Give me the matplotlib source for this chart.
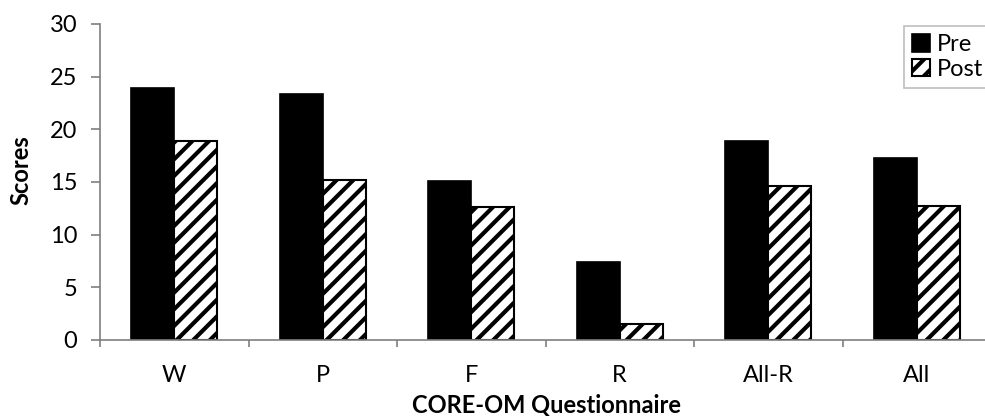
import matplotlib
matplotlib.use('Agg')
import matplotlib.pyplot as plt
import numpy as np

plt.rcParams['font.family'] = ['Lato', 'DejaVu Sans']
plt.rcParams['hatch.linewidth'] = 3.0
plt.rcParams['hatch.color'] = 'black'

# CORE-OM subscales, pre and post scores
categories = ['W', 'P', 'F', 'R', 'All-R', 'All']
pre_scores = [23.9, 23.35, 15.1, 7.4, 18.9, 17.25]
post_scores = [18.85, 15.2, 12.65, 1.55, 14.6, 12.75]

W, H = 985, 416
fig = plt.figure(figsize=(W / 100, H / 100), dpi=100)
ax = fig.add_axes([100 / W, (H - 340) / H, 891 / W, 316 / H])

x = np.arange(len(categories))
width = 0.29
ax.bar(x - width / 2, pre_scores, width, color='black', edgecolor='black',
       linewidth=1.2, label='Pre')
ax.bar(x + width / 2, post_scores, width, color='white', edgecolor='black',
       linewidth=1.5, hatch='//', label='Post')

ax.set_xlim(-0.5, len(categories) - 0.5)
ax.set_ylim(0, 30)
ax.set_yticks(np.arange(0, 31, 5))

# ticks at category boundaries, labels at centres
ax.set_xticks(np.arange(-0.5, len(categories), 1.0))
ax.set_xticklabels([])
ax.set_xticks(x, minor=True)
ax.set_xticklabels(categories, minor=True, fontsize=17)
ax.tick_params(axis='x', which='minor', length=0, pad=18)
ax.tick_params(axis='x', which='major', length=5, width=1.2, color='#7f7f7f')
ax.tick_params(axis='y', length=6.5, width=1.2, color='#7f7f7f', pad=10, labelsize=17)

for side in ['top', 'right']:
    ax.spines[side].set_visible(False)
for side in ['left', 'bottom']:
    ax.spines[side].set_color('#7f7f7f')
    ax.spines[side].set_linewidth(1.2)

fig.text(21 / W, 1 - 170 / H, 'Scores', rotation=90, ha='center', va='center',
         fontsize=17, fontweight='bold')
fig.text(546 / W, 1 - 405 / H, 'CORE-OM Questionnaire', ha='center', va='center',
         fontsize=17, fontweight='bold')

leg = fig.legend(loc='upper left', bbox_to_anchor=(904 / W, 1 - 26 / H),
                 fontsize=17, handlelength=0.75, handleheight=0.75,
                 handletextpad=0.3, labelspacing=0.15, borderpad=0.35,
                 borderaxespad=0, fancybox=False, framealpha=1)
leg.get_frame().set_edgecolor('#bfbfbf')
leg.get_frame().set_linewidth(1.2)

fig.savefig('out.png', dpi=100)
